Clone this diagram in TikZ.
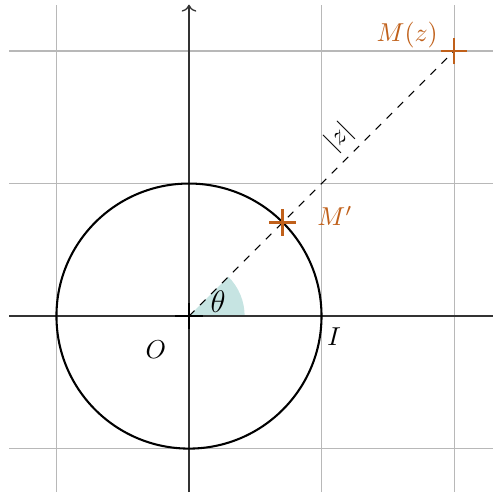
\documentclass[tikz,border=0pt]{standalone}
\usepackage{tikz}
\usetikzlibrary{
  arrows.meta,
  positioning,
  calc
}
\definecolor{PointOrange}{HTML}{C0601A}
\definecolor{AngleTeal}{HTML}{C6E4E2}
\definecolor{GridGray}{HTML}{B8B8B8}

\tikzset{
  gridline/.style={draw=GridGray,line width=0.4pt},
  axisline/.style={draw=black!80,line width=0.5pt},
  crossmark/.style={line width=1pt},
  pointlabel/.style={text=PointOrange,inner sep=3pt}
}

\begin{document}
\begin{tikzpicture}[x=1.8cm,y=1.8cm]
        \useasboundingbox (-1.426,-1.328) rectangle (2.294,2.385);
        % grid
        \foreach \k in {-1,1,2} {
          \draw[gridline] (\k,-1.328) -- (\k,2.347);
          \draw[gridline] (-1.355,\k) -- (2.294,\k);
        }
        \coordinate (O) at (0,0);
        \coordinate (I) at (1,0);
        \coordinate (Mp) at (45:1);
        \coordinate (M) at (2,2);
        % angle
        \fill[AngleTeal] (O) -- (0.42,0) arc (0:45:0.42) -- cycle;
        % axes
        \draw[axisline] (-1.355,0) -- (2.294,0);
        \draw[axisline,->] (0,-1.328) -- (0,2.35);
        \draw[line width=0.8pt] (O) circle (1);
        \draw[dashed,line width=0.4pt] (O) -- (M)
          node[pos=0.62,sloped,above,inner sep=2.5pt] (modz) {$|z|$};
        % crosses
        \draw[crossmark] ($(O)+(-0.105,0)$) -- ($(O)+(0.105,0)$) ($(O)+(0,-0.1)$) -- ($(O)+(0,0.1)$);
        \draw[crossmark,PointOrange] ($(Mp)+(-0.1,0)$) -- ($(Mp)+(0.1,0)$) ($(Mp)+(0,-0.1)$) -- ($(Mp)+(0,0.1)$);
        \draw[crossmark,PointOrange] ($(M)+(-0.1,0)$) -- ($(M)+(0.1,0)$) ($(M)+(0,-0.1)$) -- ($(M)+(0,0.1)$);
        % labels
        \node[pointlabel,anchor=south east] (lblM) at ($(M)+(-0.06,-0.04)$) {$M(z)$};
        \node[pointlabel,anchor=west] (lblMp) at ($(Mp)+(0.2,0.05)$) {$M'$};
        \node[font=\large] (lblTheta) at (0.22,0.11) {$\theta$};
        \node (lblO) at (-0.25,-0.25) {$O$};
        \node (lblI) at (1.094,-0.158) {$I$};
      \end{tikzpicture}
\end{document}
